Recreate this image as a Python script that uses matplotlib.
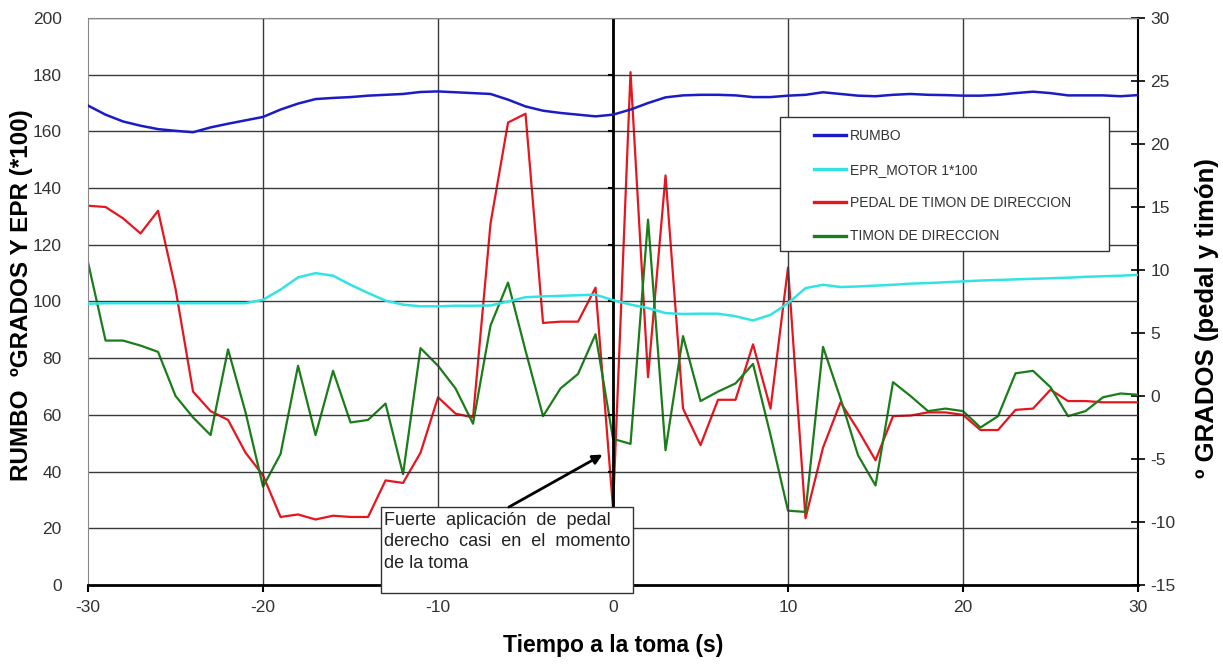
import numpy as np
import matplotlib
matplotlib.use("Agg")
import matplotlib.pyplot as plt
from matplotlib.patches import Rectangle

plt.rcParams['font.family'] = ['Liberation Sans', 'DejaVu Sans']
plt.rcParams['axes.unicode_minus'] = False

# tiempo a la toma (s)
tiempo = list(range(-30, 31))

# RUMBO (eje izquierdo)
rumbo = [169.1, 165.9, 163.5, 162.0, 160.8, 160.2, 159.7, 161.4, 162.7, 163.9,
         165.1, 167.7, 169.8, 171.4, 171.8, 172.1, 172.6, 172.9, 173.2, 173.9,
         174.1, 173.8, 173.5, 173.2, 171.2, 168.8, 167.3, 166.5, 165.9, 165.3,
         165.9, 167.7, 170.0, 172.0, 172.7, 172.9, 172.9, 172.7, 172.1, 172.1,
         172.6, 172.9, 173.8, 173.2, 172.6, 172.4, 172.9, 173.2, 172.9, 172.8,
         172.6, 172.6, 172.9, 173.5, 174.0, 173.5, 172.7, 172.7, 172.7, 172.4,
         172.8]

# EPR motor 1 *100 (eje izquierdo)
epr = [99.2, 99.4, 99.4, 99.4, 99.4, 99.4, 99.4, 99.4, 99.4, 99.4,
       100.6, 104.2, 108.5, 110.0, 109.1, 105.9, 103.0, 100.3, 98.9, 98.3,
       98.3, 98.5, 98.5, 98.6, 100.0, 101.5, 101.8, 102.0, 102.2, 102.4,
       100.5, 98.9, 97.7, 95.9, 95.6, 95.7, 95.7, 94.8, 93.3, 95.3,
       99.4, 104.7, 105.9, 105.1, 105.3, 105.6, 105.9, 106.3, 106.5, 106.8,
       107.1, 107.4, 107.6, 107.8, 108.0, 108.2, 108.4, 108.7, 108.9, 109.1,
       109.4]

# pedal de timon de direccion (eje derecho)
pedal = [15.1, 15.0, 14.1, 12.9, 14.7, 8.5, 0.35, -1.2, -1.9, -4.5,
         -6.3, -9.6, -9.4, -9.8, -9.5, -9.6, -9.6, -6.7, -6.9, -4.5,
         -0.1, -1.4, -1.7, 13.7, 21.7, 22.4, 5.8, 5.9, 5.9, 8.6,
         -8.9, 25.7, 1.5, 17.5, -1.0, -3.9, -0.3, -0.3, 4.1, -1.0,
         10.2, -9.7, -4.1, -0.5, -2.7, -5.1, -1.6, -1.55, -1.3, -1.3,
         -1.5, -2.7, -2.7, -1.1, -1.0, 0.5, -0.4, -0.4, -0.5, -0.5,
         -0.5]

# timon de direccion (eje derecho)
timon = [10.6, 4.4, 4.4, 4.0, 3.5, 0.0, -1.7, -3.1, 3.7, -1.3,
         -7.2, -4.6, 2.4, -3.1, 2.0, -2.1, -1.9, -0.6, -6.2, 3.8,
         2.4, 0.6, -2.2, 5.6, 9.0, 3.6, -1.6, 0.6, 1.75, 4.9,
         -3.4, -3.8, 14.0, -4.3, 4.75, -0.4, 0.35, 1.0, 2.55, -3.1,
         -9.1, -9.2, 3.9, -0.2, -4.7, -7.1, 1.1, 0.0, -1.2, -1.0,
         -1.2, -2.5, -1.6, 1.8, 2.0, 0.7, -1.6, -1.2, -0.1, 0.2,
         0.1]

col_rumbo = '#1c1cc4'
col_epr = '#33e3e3'
col_pedal = '#e8141e'
col_timon = '#1a7d1a'
tick_col = '#333333'

fig = plt.figure(figsize=(12.23, 6.66), dpi=100)
ax = fig.add_axes([0.072, 0.1216, 0.8585, 0.8514])
ax2 = ax.twinx()

# ejes y rejilla
ax.set_xlim(-30, 30)
ax.set_ylim(0, 200)
ax2.set_ylim(-15, 30)
ax.set_xticks(range(-30, 31, 10))
ax.set_yticks(range(0, 201, 20))
ax2.set_yticks(range(-15, 31, 5))
for y in range(20, 201, 20):
    ax.axhline(y, color='#3a3a3a', lw=1.0, zorder=0)
for x in range(-20, 30, 10):
    ax.axvline(x, color='#3a3a3a', lw=1.0, zorder=0)

for s in ['left', 'top']:
    ax.spines[s].set_color('#888888')
    ax2.spines[s].set_visible(False)
ax.spines['right'].set_visible(False)
ax2.spines['bottom'].set_visible(False)
ax.spines['bottom'].set_color('black')
ax.spines['bottom'].set_linewidth(2)
ax2.spines['right'].set_color('black')
ax2.spines['right'].set_linewidth(1.5)

ax.tick_params(axis='y', length=0, labelsize=12.5, labelcolor=tick_col, pad=19)
ax.tick_params(axis='x', direction='out', length=5, width=1.5, labelsize=12.5,
               labelcolor=tick_col, pad=6)
ax2.tick_params(axis='y', direction='inout', length=10, width=1.2, labelsize=12.5,
                labelcolor=tick_col, pad=4)

# eje vertical en t = 0
ax.axvline(0, color='black', lw=2, zorder=1)
for y in range(0, 201, 20):
    ax.plot([-0.22, 0], [y, y], color='black', lw=1.5, zorder=1)

# series
l1, = ax.plot(tiempo, rumbo, color=col_rumbo, lw=1.8, zorder=4)
l2, = ax.plot(tiempo, epr, color=col_epr, lw=1.8, zorder=4)
l3, = ax2.plot(tiempo, pedal, color=col_pedal, lw=1.6, zorder=3)
l4, = ax2.plot(tiempo, timon, color=col_timon, lw=1.6, zorder=4)

ax.set_zorder(ax2.get_zorder() + 1)
ax.patch.set_visible(False)

# leyenda (marco dibujado aparte)
ax.add_patch(Rectangle((0.659, 0.589), 0.3135, 0.236, transform=ax.transAxes,
                       fc='white', ec='#333333', lw=1.0, zorder=9))
handles = [l1, l2, l3, l4]
labels = ['RUMBO', 'EPR_MOTOR 1*100', 'PEDAL DE TIMON DE DIRECCION', 'TIMON DE DIRECCION']
leg = ax.legend(handles, labels, loc='upper left', bbox_to_anchor=(0.691, 0.804),
                fontsize=10, frameon=False, handlelength=2.3, handletextpad=0.3,
                labelspacing=1.4, borderpad=0, borderaxespad=0)
for t in leg.get_texts():
    t.set_color('#333333')
for h in leg.legend_handles:
    h.set_linewidth(2.4)
leg.set_zorder(10)

# anotacion
x0, x1 = -13.26, 1.14
y0, y1 = -2.8, 27.5
ax.add_patch(Rectangle((x0, y0), x1 - x0, y1 - y0, fc='white', ec='#333333',
                       lw=1.0, zorder=11, clip_on=False))
ax.text(x0 + 0.2, y1 - 1.6,
        'Fuerte  aplicación  de  pedal\nderecho  casi  en  el  momento\nde la toma',
        fontsize=13, color='#222222', va='top', ha='left', linespacing=1.37,
        zorder=12, clip_on=False)
ax.annotate('', xy=(-0.6, 46), xytext=(-5.95, y1),
            arrowprops=dict(arrowstyle='-|>', color='black', lw=2,
                            mutation_scale=14, shrinkA=0, shrinkB=0),
            zorder=12)

ax.set_xlabel('Tiempo a la toma (s)', fontsize=16.5, fontweight='bold')
ax.xaxis.set_label_coords(0.5, -0.087)
ax.set_ylabel('RUMBO  ºGRADOS Y EPR (*100)', fontsize=17.5, fontweight='bold')
ax.yaxis.set_label_coords(-0.052, 0.511)
ax2.set_ylabel('º GRADOS (pedal y timón)', fontsize=18.5, fontweight='bold')
ax2.yaxis.set_label_coords(1.054, 0.471)

fig.savefig('out.png', dpi=100)
